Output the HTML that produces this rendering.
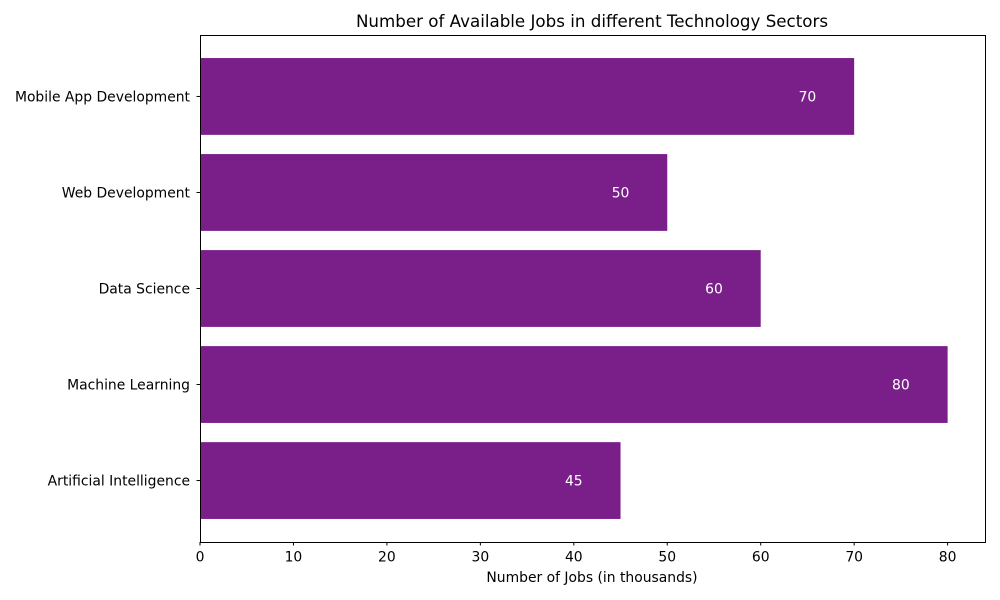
<!DOCTYPE html>
<html><head><meta charset="utf-8"><style>
body{margin:0;background:#fff}
svg{display:block;font-family:"DejaVu Sans","Liberation Sans",sans-serif}
</style></head><body>
<svg id="chart" width="1000" height="600" viewBox="0 0 1000 600">
<text x="592" y="27" text-anchor="middle" font-size="16.7">Number of Available Jobs in different Technology Sectors</text>
<text x="592" y="582" text-anchor="middle" font-size="13.9">Number of Jobs (in thousands)</text>
<g id="bars"></g><g id="ticks"></g>
<rect x="200.5" y="35.5" width="785" height="507" fill="none" stroke="#000" stroke-width="1"/>
</svg>
<script>
const categories=["Artificial Intelligence","Machine Learning","Data Science","Web Development","Mobile App Development"];
const values=[45,80,60,50,70];
const xTicks=[0,10,20,30,40,50,60,70,80];
const L=200,R=985,T=35,B=542,XMAX=84;
const NS="http://www.w3.org/2000/svg";
const x=v=>L+v/XMAX*(R-L);
const step=(B-T)/(categories.length+0.28);
const yc=i=>B-(0.64+i)*step;
const bars=document.getElementById('bars'),ticks=document.getElementById('ticks');
function mk(t,a,p){const e=document.createElementNS(NS,t);for(const k in a)e.setAttribute(k,a[k]);p.appendChild(e);return e;}
categories.forEach((c,i)=>{
  const h=0.8*step;
  const r=mk('rect',{x:x(0),y:yc(i)-h/2,width:x(values[i])-x(0),height:h,fill:'#7a1f8a'},bars);
  
  
  const t=mk('text',{x:x(values[i]-5),y:yc(i)+5,'text-anchor':'middle','font-size':13.9,fill:'#fff'},bars);
  t.textContent=values[i];
  
  
  mk('line',{x1:L-3.5,x2:L,y1:yc(i),y2:yc(i),stroke:'#000'},ticks);
  const l=mk('text',{x:L-10,y:yc(i)+5,'text-anchor':'end','font-size':13.9},ticks);
  l.textContent=c;
  
  
});
xTicks.forEach(v=>{
  mk('line',{x1:x(v),x2:x(v),y1:B,y2:B+3.5,stroke:'#000'},ticks);
  const l=mk('text',{x:x(v),y:B+19.5,'text-anchor':'middle','font-size':13.9},ticks);
  l.textContent=v;
  
  
});
</script>
</body></html>
